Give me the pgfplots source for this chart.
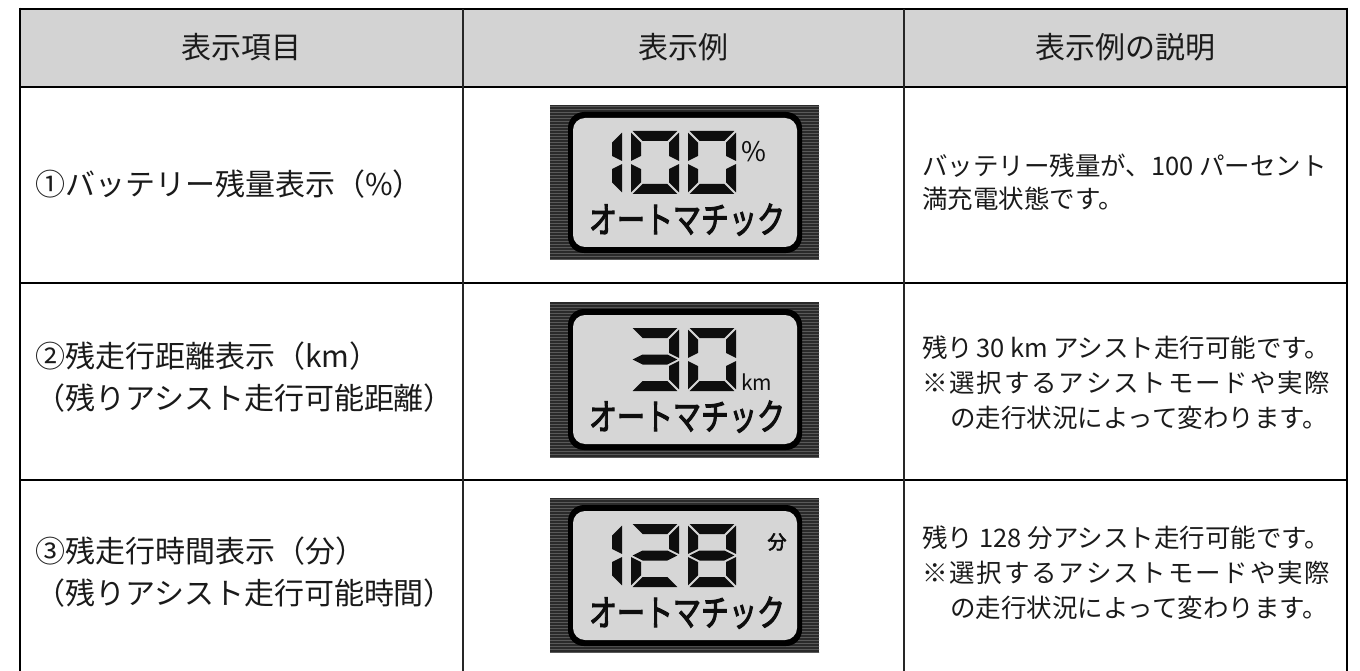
\documentclass[border=0pt]{standalone}
\usepackage{graphicx}
\usepackage{pgfplots}
\pgfplotsset{compat=1.18}
\usetikzlibrary{patterns}
\usepackage{fontspec}
\setmainfont{Noto Sans CJK JP}
\newfontfamily\lcdfont[FakeBold=3]{Noto Sans CJK JP}
\definecolor{hdr}{HTML}{D3D3D3}
\definecolor{panel}{HTML}{D6D6D6}
\definecolor{bezel}{HTML}{2A2A2A}
\definecolor{txt}{HTML}{1A1A1A}
\definecolor{seg}{HTML}{0E0E0E}
% seven-segment geometry (px)
\def\SW{48}\def\SH{63}\def\ST{10}\def\SG{1.6}\def\SM{31.5}\def\SHT{5}
\newcommand\SegA[2]{\fill[seg] (axis cs:{#1+\SG},{#2}) -- (axis cs:{#1+\SW-\SG},{#2}) -- (axis cs:{#1+\SW-\ST-\SG},{#2+\ST}) -- (axis cs:{#1+\ST+\SG},{#2+\ST}) -- cycle;}
\newcommand\SegD[2]{\fill[seg] (axis cs:{#1+\SG},{#2+\SH}) -- (axis cs:{#1+\SW-\SG},{#2+\SH}) -- (axis cs:{#1+\SW-\ST-\SG},{#2+\SH-\ST}) -- (axis cs:{#1+\ST+\SG},{#2+\SH-\ST}) -- cycle;}
\newcommand\SegF[2]{\fill[seg] (axis cs:{#1},{#2+\SG}) -- (axis cs:{#1+\ST},{#2+\ST+\SG}) -- (axis cs:{#1+\ST},{#2+\SM-\SHT-\SG}) -- (axis cs:{#1},{#2+\SM-\SG}) -- cycle;}
\newcommand\SegB[2]{\fill[seg] (axis cs:{#1+\SW},{#2+\SG}) -- (axis cs:{#1+\SW-\ST},{#2+\ST+\SG}) -- (axis cs:{#1+\SW-\ST},{#2+\SM-\SHT-\SG}) -- (axis cs:{#1+\SW},{#2+\SM-\SG}) -- cycle;}
\newcommand\SegE[2]{\fill[seg] (axis cs:{#1},{#2+\SM+\SG}) -- (axis cs:{#1+\ST},{#2+\SM+\SHT+\SG}) -- (axis cs:{#1+\ST},{#2+\SH-\ST-\SG}) -- (axis cs:{#1},{#2+\SH-\SG}) -- cycle;}
\newcommand\SegC[2]{\fill[seg] (axis cs:{#1+\SW},{#2+\SM+\SG}) -- (axis cs:{#1+\SW-\ST},{#2+\SM+\SHT+\SG}) -- (axis cs:{#1+\SW-\ST},{#2+\SH-\ST-\SG}) -- (axis cs:{#1+\SW},{#2+\SH-\SG}) -- cycle;}
\newcommand\SegG[2]{\fill[seg] (axis cs:{#1+\SG},{#2+\SM}) -- (axis cs:{#1+\ST+\SG},{#2+\SM-\SHT}) -- (axis cs:{#1+\SW-\ST-\SG},{#2+\SM-\SHT}) -- (axis cs:{#1+\SW-\SG},{#2+\SM}) -- (axis cs:{#1+\SW-\ST-\SG},{#2+\SM+\SHT}) -- (axis cs:{#1+\ST+\SG},{#2+\SM+\SHT}) -- cycle;}
\newcommand\DOne[2]{\SegB{#1}{#2}\SegC{#1}{#2}}
\newcommand\DZero[2]{\SegA{#1}{#2}\SegB{#1}{#2}\SegC{#1}{#2}\SegD{#1}{#2}\SegE{#1}{#2}\SegF{#1}{#2}}
\newcommand\DTwo[2]{\SegA{#1}{#2}\SegB{#1}{#2}\SegG{#1}{#2}\SegE{#1}{#2}\SegD{#1}{#2}}
\newcommand\DThree[2]{\SegA{#1}{#2}\SegB{#1}{#2}\SegG{#1}{#2}\SegC{#1}{#2}\SegD{#1}{#2}}
\newcommand\DEight[2]{\DZero{#1}{#2}\SegG{#1}{#2}}
\newcommand\Display[2]{%
  \fill[bezel] (axis cs:{#1},{#2}) rectangle (axis cs:{#1+269},{#2+155});
  \fill[pattern=horizontal lines, pattern color=gray!70!black] (axis cs:{#1},{#2}) rectangle (axis cs:{#1+269},{#2+155});
  \fill[black, rounded corners=16pt] (axis cs:{#1+18},{#2+7}) rectangle (axis cs:{#1+252},{#2+148});
  \fill[panel, rounded corners=12pt] (axis cs:{#1+23},{#2+13}) rectangle (axis cs:{#1+247},{#2+142});
  \node[inner sep=0, anchor=base, text=seg, font=\lcdfont\fontsize{28}{28}\selectfont] at (axis cs:{#1+137},{#2+128}) {\scalebox{1}[1.3]{オートマチック}};
}
\begin{document}
\begin{tikzpicture}
\begin{axis}[at={(0,0)}, anchor=south west, scale only axis,
  width=1360pt, height=671pt, xmin=0, xmax=1360, ymin=0, ymax=671,
  y dir=reverse, hide axis, clip=false]
% header background
\fill[hdr] (axis cs:20,9) rectangle (axis cs:1347,87);
% displays
\Display{550}{105}
\Display{550}{302}
\Display{550}{498}
% digits
\DOne{574}{131}\DZero{631}{131}\DZero{688}{131}
\node[inner sep=0, anchor=base west, text=seg, font=\fontsize{27}{27}\selectfont] at (axis cs:741,162) {\%};
\DThree{631}{328}\DZero{688}{328}
\node[inner sep=0, anchor=base west, text=seg, font=\fontsize{21}{21}\selectfont] at (axis cs:741,390) {km};
\DOne{574}{524}\DTwo{631}{524}\DEight{688}{524}
\node[inner sep=0, anchor=center, text=seg, font=\lcdfont\fontsize{19}{19}\selectfont] at (axis cs:777,542) {分};
% table lines
\draw[black, line width=2.6pt] (axis cs:20,9) -- (axis cs:1347,9);
\draw[black, line width=2.6pt] (axis cs:20,87) -- (axis cs:1347,87);
\draw[black, line width=2.4pt] (axis cs:20,283) -- (axis cs:1347,283);
\draw[black, line width=2.4pt] (axis cs:20,480) -- (axis cs:1347,480);
\draw[black, line width=2.4pt] (axis cs:20,7.7) -- (axis cs:20,671);
\draw[black, line width=2.4pt] (axis cs:1347,7.7) -- (axis cs:1347,671);
\draw[black!85, line width=2pt] (axis cs:463,9) -- (axis cs:463,671);
\draw[black!85, line width=2pt] (axis cs:904,9) -- (axis cs:904,671);
% header text
\begin{scope}[every node/.style={inner sep=0, text=txt, font=\fontsize{30}{30}\selectfont, anchor=base}]
\node at (axis cs:241,59) {表示項目};
\node at (axis cs:683.5,59) {表示例};
\node at (axis cs:1125.5,59) {表示例の説明};
\end{scope}
% left column
\begin{scope}[every node/.style={inner sep=0, text=txt, font=\fontsize{30}{30}\selectfont, anchor=base west}]
\node at (axis cs:35,196) {①バッテリー残量表示（\%）};
\node at (axis cs:35,367) {②残走行距離表示（km）};
\node at (axis cs:35,409) {（残りアシスト走行可能距離）};
\node at (axis cs:35,562) {③残走行時間表示（分）};
\node at (axis cs:35,604) {（残りアシスト走行可能時間）};
\end{scope}
% right column
\begin{scope}[every node/.style={inner sep=0, text=txt, font=\fontsize{25.5}{25.5}\selectfont, anchor=base west}]
\node at (axis cs:922,176) {バッテリー残量が、100 パーセント};
\node at (axis cs:922,209) {満充電状態です。};
\node at (axis cs:922,357) {\makebox[408pt][s]{残り\hspace{3pt}30 km\hfill アシスト走行可能です。}};
\node at (axis cs:922,392) {\makebox[408pt][s]{※\hfill 選\hfill 択\hfill す\hfill る\hfill ア\hfill シ\hfill ス\hfill ト\hfill モ\hfill ー\hfill ド\hfill や\hfill 実\hfill 際}};
\node at (axis cs:950,427) {の走行状況によって変わります。};
\node at (axis cs:922,547) {\makebox[405pt][s]{残り\hspace{6pt}128\hspace{6pt}分アシスト走行可能です。\hfill}};
\node at (axis cs:922,582) {\makebox[408pt][s]{※\hfill 選\hfill 択\hfill す\hfill る\hfill ア\hfill シ\hfill ス\hfill ト\hfill モ\hfill ー\hfill ド\hfill や\hfill 実\hfill 際}};
\node at (axis cs:950,617) {の走行状況によって変わります。};
\end{scope}
\end{axis}
\pgfresetboundingbox
\useasboundingbox (0,0) rectangle (1360pt,671pt);
\end{tikzpicture}
\end{document}
